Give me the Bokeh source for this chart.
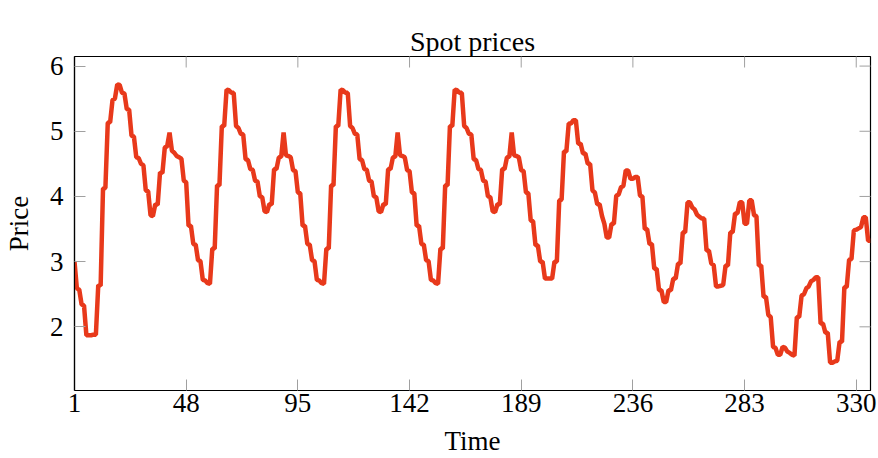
import math
from bokeh.plotting import figure
from bokeh.models import Range1d, FixedTicker, ColumnDataSource, LinearAxis, Title
from bokeh.embed import file_html
from bokeh.resources import INLINE

# Half-hourly spot prices, one list per day (48 values each)
day1 = [3.00, 2.59, 2.57, 2.34, 2.33, 1.87, 1.87, 1.87, 1.88, 1.88,
        2.64, 2.63, 4.12, 4.13, 5.13, 5.14, 5.48, 5.50, 5.72, 5.71,
        5.59, 5.58, 5.34, 5.33, 4.93, 4.92, 4.60, 4.59, 4.50, 4.48,
        4.09, 4.08, 3.71, 3.70, 3.88, 3.87, 4.37, 4.36, 4.75, 4.77,
        4.98, 4.70, 4.67, 4.62, 4.60, 4.58, 4.24, 4.22]
day2 = [3.55, 3.55, 3.27, 3.26, 3.02, 3.01, 2.72, 2.71, 2.67, 2.66,
        3.20, 3.20, 4.17, 4.17, 5.08, 5.08, 5.64, 5.63, 5.59, 5.59,
        5.08, 5.05, 4.96, 4.95, 4.57, 4.56, 4.42, 4.41, 4.24, 4.23,
        4.00, 3.99, 3.77, 3.76, 3.88, 3.88, 4.42, 4.42, 4.60, 4.61,
        4.98, 4.63, 4.62, 4.60, 4.40, 4.39, 4.06, 4.05]
day3 = [3.55, 3.55, 3.27, 3.26, 3.02, 3.01, 2.72, 2.71, 2.67, 2.66,
        3.20, 3.20, 4.17, 4.17, 5.08, 5.08, 5.64, 5.63, 5.59, 5.59,
        5.08, 5.05, 4.96, 4.95, 4.57, 4.56, 4.42, 4.41, 4.24, 4.23,
        4.00, 3.99, 3.77, 3.76, 3.88, 3.88, 4.42, 4.42, 4.60, 4.61,
        4.98, 4.63, 4.62, 4.60, 4.40, 4.39, 4.06, 4.05]
day4 = [3.55, 3.55, 3.27, 3.26, 3.02, 3.01, 2.72, 2.71, 2.67, 2.66,
        3.20, 3.20, 4.17, 4.17, 5.08, 5.08, 5.64, 5.63, 5.59, 5.59,
        5.08, 5.05, 4.96, 4.95, 4.57, 4.56, 4.42, 4.41, 4.24, 4.23,
        4.00, 3.99, 3.77, 3.76, 3.88, 3.88, 4.42, 4.42, 4.60, 4.61,
        4.98, 4.63, 4.62, 4.60, 4.40, 4.39, 4.06, 4.05]
day5 = [3.63, 3.62, 3.25, 3.25, 3.00, 3.00, 2.74, 2.74, 2.74, 2.74,
        3.00, 3.00, 3.94, 3.95, 4.69, 4.69, 5.12, 5.12, 5.17, 5.17,
        4.81, 4.81, 4.66, 4.66, 4.50, 4.50, 4.09, 4.06, 3.88, 3.88,
        3.70, 3.58, 3.37, 3.37, 3.58, 3.58, 4.01, 4.03, 4.14, 4.16,
        4.40, 4.40, 4.27, 4.27, 4.30, 4.30, 4.01, 4.00]
day6 = [3.50, 3.50, 3.27, 3.27, 2.89, 2.89, 2.56, 2.56, 2.38, 2.38,
        2.56, 2.56, 2.74, 2.74, 2.97, 2.97, 3.45, 3.45, 3.91, 3.91,
        3.83, 3.80, 3.72, 3.69, 3.66, 3.66, 3.17, 3.17, 2.97, 2.95,
        2.62, 2.62, 2.63, 2.64, 2.94, 2.94, 3.45, 3.45, 3.74, 3.74,
        3.91, 3.91, 3.58, 3.58, 3.94, 3.94, 3.71, 3.70]
day7 = [2.94, 2.94, 2.46, 2.46, 2.18, 2.15, 1.69, 1.68, 1.57, 1.57,
        1.69, 1.68, 1.62, 1.60, 1.57, 1.56, 2.15, 2.15, 2.48, 2.50,
        2.59, 2.62, 2.70, 2.72, 2.76, 2.76, 2.05, 2.05, 1.91, 1.91,
        1.45, 1.45, 1.47, 1.48, 1.77, 1.77, 2.61, 2.61, 3.03, 3.04,
        3.48, 3.49, 3.51, 3.53, 3.68, 3.68, 3.32, 3.32]

x_ticks = [1, 48, 95, 142, 189, 236, 283, 330]
y_ticks = [2, 3, 4, 5, 6]

prices = day1 + day2 + day3 + day4 + day5 + day6 + day7
time = list(range(1, len(prices) + 1))
source = ColumnDataSource(data=dict(time=time, price=prices))

ymin, ymax = min(prices), max(prices)
pad = 0.1 * (ymax - ymin)
y_lo, y_hi = ymin - pad, ymax + pad
x_lo, x_hi = 1, len(prices)

FONT = "Liberation Serif"
FS = "27px"
TICK_GRAY = "#a0a0a0"
TICK_LEN = 11

p = figure(width=878, height=458, output_backend="svg", toolbar_location=None,
           x_range=Range1d(x_lo, x_hi), y_range=Range1d(y_lo, y_hi),
           min_border_left=73, min_border_right=8, min_border_top=56,
           min_border_bottom=68)

p.xgrid.visible = False
p.ygrid.visible = False
p.outline_line_color = "black"
p.outline_line_width = 1.2
p.background_fill_color = "white"
p.border_fill_color = "white"


def style_axis(ax):
    ax.major_tick_in = TICK_LEN
    ax.major_tick_out = 0
    ax.minor_tick_line_color = None
    ax.major_tick_line_color = TICK_GRAY
    ax.major_tick_line_width = 1
    ax.axis_line_color = "black"
    ax.axis_line_width = 1.2
    ax.major_label_text_font = FONT
    ax.major_label_text_font_size = FS
    ax.major_label_text_color = "black"
    ax.major_label_text_line_height = 1.0
    ax.axis_label_text_font = FONT
    ax.axis_label_text_font_size = FS
    ax.axis_label_text_font_style = "normal"
    ax.axis_label_text_color = "black"
    ax.axis_label_text_line_height = 1.0


xa = p.xaxis[0]
xa.ticker = FixedTicker(ticks=x_ticks)
xa.axis_label = "Time"
style_axis(xa)
xa.major_label_standoff = 3
xa.axis_label_standoff = 11

ya = p.yaxis[0]
ya.ticker = FixedTicker(ticks=y_ticks)
ya.axis_label = "Price"
style_axis(ya)
ya.major_label_standoff = 11
ya.axis_label_standoff = 13

# title first, then an empty spacer axis (no ticks, no labels, no line)
p.add_layout(Title(text="Spot prices", text_font=FONT, text_font_size="28px",
                   text_font_style="normal", text_color="black", align="center",
                   vertical_align="bottom", standoff=0), "above")
spacer = LinearAxis(ticker=FixedTicker(ticks=[]), major_tick_out=25, major_tick_in=0,
                    major_tick_line_color=None, minor_tick_line_color=None,
                    axis_line_color=None, major_label_standoff=0)
p.add_layout(spacer, "above")

# mirrored tick marks on the top and right frame edges (half of each dash is clipped)
p.scatter(x=x_ticks, y=[y_hi] * len(x_ticks), marker="dash", size=2 * TICK_LEN,
          angle=math.pi / 2, line_color=TICK_GRAY, line_width=1)
p.scatter(x=[x_hi] * len(y_ticks), y=y_ticks, marker="dash", size=2 * TICK_LEN,
          line_color=TICK_GRAY, line_width=1)

p.line("time", "price", source=source, line_width=4.5, line_color="#E8391B")

open("out.html", "w").write(file_html(p, INLINE))
